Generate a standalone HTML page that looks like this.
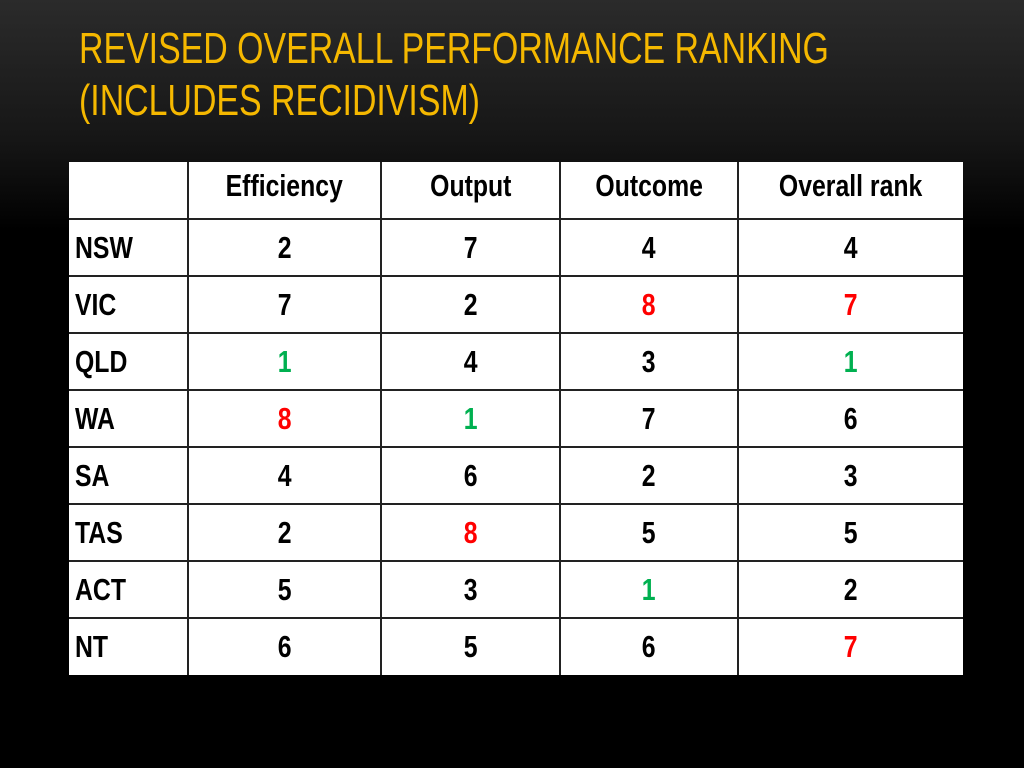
<!DOCTYPE html>
<html><head><meta charset="utf-8"><style>
html,body{margin:0;padding:0}
body{width:1024px;height:768px;overflow:hidden;background:linear-gradient(to bottom,#2b2b2b 0px,#161616 140px,#000 230px,#000 768px);position:relative;font-family:"Liberation Sans",sans-serif}
#title{position:absolute;left:79px;top:23px;margin:0;color:#f5b800;font-weight:normal;font-size:44px;line-height:52px;white-space:nowrap;transform:scaleX(0.77);transform-origin:0 0}
table{position:absolute;left:69px;top:162px;border-collapse:collapse;background:#fff;table-layout:fixed}
tr{height:57px}
td{border:2px solid #222;padding:0;font-weight:bold;font-size:31px;text-align:center;color:#000;line-height:30px}
td span{display:inline-block;transform:scaleX(0.8)}
tr:first-child td{border-top:none}
td:first-child{border-left:none;text-align:left;padding-left:6px}
td:first-child span{transform-origin:0 50%}
td:last-child{border-right:none}
tr:last-child td{border-bottom:none}
tr:first-child td{vertical-align:top;padding-top:9px}
.r{color:#ff0000}.g{color:#00b050}
</style></head><body>
<h1 id="title">REVISED OVERALL PERFORMANCE RANKING<br>(INCLUDES RECIDIVISM)</h1>
<table>
<colgroup><col style="width:119px"><col style="width:193px"><col style="width:179px"><col style="width:178px"><col style="width:225px"></colgroup>
<tr><td></td><td><span>Efficiency</span></td><td><span>Output</span></td><td><span>Outcome</span></td><td><span>Overall rank</span></td></tr>
<tr><td><span>NSW</span></td><td><span>2</span></td><td><span>7</span></td><td><span>4</span></td><td><span>4</span></td></tr>
<tr><td><span>VIC</span></td><td><span>7</span></td><td><span>2</span></td><td class="r"><span>8</span></td><td class="r"><span>7</span></td></tr>
<tr><td><span>QLD</span></td><td class="g"><span>1</span></td><td><span>4</span></td><td><span>3</span></td><td class="g"><span>1</span></td></tr>
<tr><td><span>WA</span></td><td class="r"><span>8</span></td><td class="g"><span>1</span></td><td><span>7</span></td><td><span>6</span></td></tr>
<tr><td><span>SA</span></td><td><span>4</span></td><td><span>6</span></td><td><span>2</span></td><td><span>3</span></td></tr>
<tr><td><span>TAS</span></td><td><span>2</span></td><td class="r"><span>8</span></td><td><span>5</span></td><td><span>5</span></td></tr>
<tr><td><span>ACT</span></td><td><span>5</span></td><td><span>3</span></td><td class="g"><span>1</span></td><td><span>2</span></td></tr>
<tr><td><span>NT</span></td><td><span>6</span></td><td><span>5</span></td><td><span>6</span></td><td class="r"><span>7</span></td></tr>
</table>
</body></html>
